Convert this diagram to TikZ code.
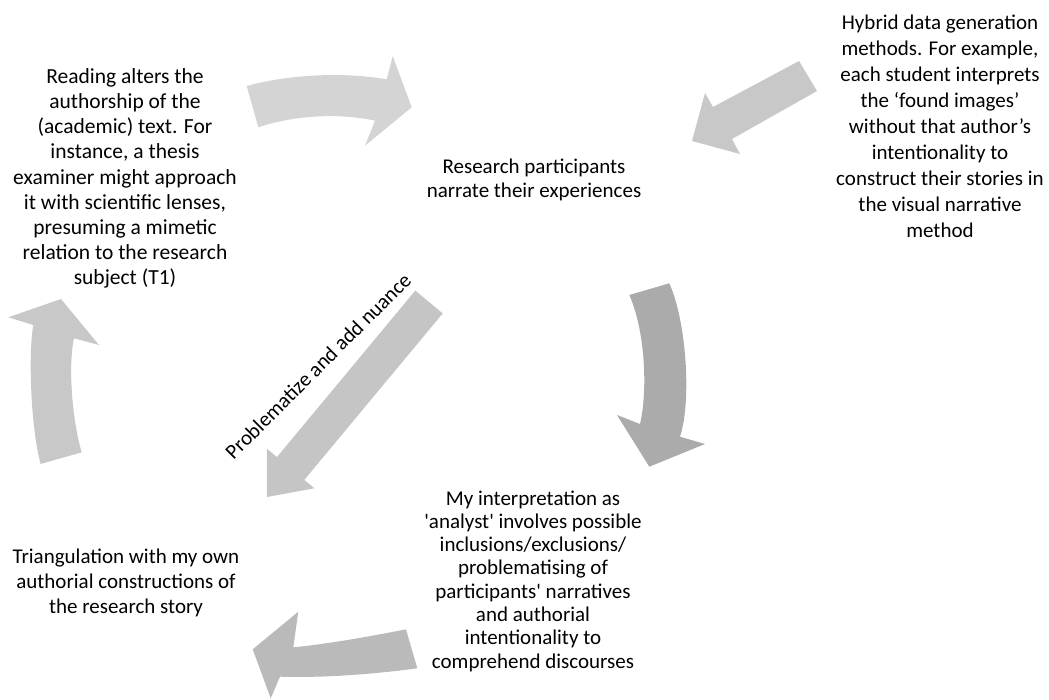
\documentclass[tikz,border=0pt]{standalone}
\usepackage{fontspec}
\setmainfont{Carlito}
\definecolor{arrTop}{RGB}{212,212,212}
\definecolor{arrHyb}{RGB}{200,200,200}
\definecolor{arrRight}{RGB}{171,171,171}
\definecolor{arrBot}{RGB}{186,186,186}
\definecolor{arrLeft}{RGB}{200,200,200}
\definecolor{arrDiag}{RGB}{197,197,197}

\begin{document}
\begin{tikzpicture}[x=1pt,y=-1pt,
    txt/.style={align=center,inner sep=0pt,font=\fontsize{21}{25.2}\selectfont}]

\useasboundingbox (0,0) rectangle (1049,699);

% Top arrow (to the right)
\fill[arrTop] (246.7,86) .. controls (290,74) and (345,72) .. (386.7,79.3)
    -- (392.7,56) -- (411.7,107.3) -- (365,145.7) -- (375,120.7)
    .. controls (340,113) and (295,115) .. (258.3,127.3) -- cycle;

% Straight arrow from the top right
\fill[arrHyb] (799,61) -- (817,91) -- (732,139) -- (740,154) -- (692,141)
    -- (705,93) -- (713,107) -- cycle;

% Right arrow (downwards)
\fill[arrRight] (669.3,283.3) .. controls (686,320) and (692,400) .. (680,436.7)
    -- (705,444) -- (649.3,466.7) -- (617,415) -- (640,424)
    .. controls (648,390) and (645,330) .. (629.3,295) -- cycle;

% Bottom arrow (to the left)
\fill[arrBot] (406,629.3) .. controls (372,636) and (328,644) .. (293.3,647.3)
    -- (298.3,611.7) -- (252.7,649.3) -- (270.7,698.3) -- (280,676.7)
    .. controls (325,678) and (375,674) .. (417.3,668.3) -- cycle;

% Left arrow (upwards)
\fill[arrLeft] (81.7,452.3) .. controls (72,420) and (68,365) .. (74,338.3)
    -- (99,345) -- (61,299) -- (8.3,317.3) -- (33.3,325)
    .. controls (28,355) and (31,430) .. (40.7,464) -- cycle;

% Diagonal arrow
\fill[arrDiag] (415.3,290.6) -- (442.7,313.4) -- (304.3,479.9) -- (314.4,488.3)
    -- (267,497) -- (266.8,448.7) -- (276.9,457.1) -- cycle;

% Texts
\node[txt,font=\fontsize{21.5}{25.2}\selectfont] (reading) at (125,178.5)
    {Reading alters the\\authorship of the\\(academic) text. For\\instance, a thesis\\examiner might approach\\it with scientific lenses,\\presuming a mimetic\\relation to the research\\subject (T1)};
\node[txt,font=\fontsize{21}{24}\selectfont] (research) at (534,180)
    {Research participants\\narrate their experiences};
\node[txt,font=\fontsize{21}{26}\selectfont] (hybrid) at (940,126.5)
    {Hybrid data generation\\methods. For example,\\each student interprets\\the ‘found images’\\without that author’s\\intentionality to\\construct their stories in\\the visual narrative\\method};
\node[txt,font=\fontsize{21}{23.3}\selectfont] (interp) at (533,581)
    {My interpretation as\\\textquotesingle analyst\textquotesingle{} involves possible\\inclusions/exclusions/\\problematising of\\participants\textquotesingle{} narratives\\and authorial\\intentionality to\\comprehend discourses};
\node[txt] (triang) at (126,583)
    {Triangulation with my own\\authorial constructions of\\the research story};
\node[txt,rotate=45] (nuance) at (318,366) {Problematize and add nuance};

\end{tikzpicture}
\end{document}
